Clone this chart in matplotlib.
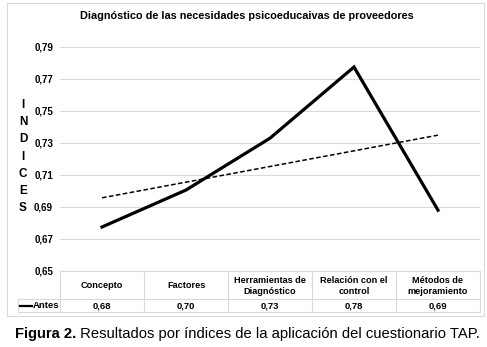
import matplotlib
matplotlib.use("Agg")
import matplotlib.pyplot as plt
import numpy as np
from matplotlib.lines import Line2D
from matplotlib.patches import Rectangle

categories = ["Concepto", "Factores", "Herramientas de\nDiagnóstico",
              "Relación con el\ncontrol", "Métodos de\nmejoramiento"]
antes = [0.6775, 0.7006, 0.7330, 0.7775, 0.6880]
yticks = [0.65, 0.67, 0.69, 0.71, 0.73, 0.75, 0.77, 0.79]
title = "Diagnóstico de las necesidades psicoeducaivas de proveedores"
series_name = "Antes"
ylabel = "INDICES"
caption_bold = "Figura 2."
caption_rest = " Resultados por índices de la aplicación del cuestionario TAP."

plt.rcParams['font.family'] = ['Liberation Sans', 'DejaVu Sans']

W, H = 487, 347
fig = plt.figure(figsize=(W / 100, H / 100), dpi=100)

def fx(px):
    return px / W

def fy(py):
    return 1 - py / H

grid_c = "#d9d9d9"

# outer chart border
fig.add_artist(Rectangle((fx(7), fy(316)), fx(484) - fx(7), fy(3) - fy(316),
                         transform=fig.transFigure, fill=False,
                         edgecolor=grid_c, linewidth=0.8))

x0, x1 = 60, 480
ytop, ybot = 47, 271
ax = fig.add_axes([fx(x0), fy(ybot), fx(x1) - fx(x0), fy(ytop) - fy(ybot)])
xs = np.arange(len(categories))
ax.plot(xs, antes, color="black", linewidth=2.3, solid_joinstyle="miter")
coef = np.polyfit(xs, antes, 1)
ax.plot(xs, np.polyval(coef, xs), color="black", linewidth=1.1,
        linestyle=(0, (3, 1.6)))
ax.set_xlim(-0.5, len(categories) - 0.5)
ax.set_ylim(yticks[0], yticks[-1])
ax.set_yticks(yticks)
ax.set_yticklabels([f"{v:.2f}".replace(".", ",") for v in yticks],
                   fontsize=7, fontweight="bold")
ax.tick_params(axis="y", length=0, pad=5)
ax.set_xticks([])
ax.grid(axis="y", color=grid_c, linewidth=0.8)
ax.set_axisbelow(True)
for s in ax.spines.values():
    s.set_visible(False)

# title
fig.text(fx(247), fy(16), title, ha="center", va="center",
         fontsize=7.8, fontweight="bold")

# vertical y label
for i, ch in enumerate(ylabel):
    fig.text(fx(23), fy(105 + i * 17.2), ch, ha="center", va="center",
             fontsize=8.5, fontweight="bold")

# table
ncol = len(categories)
cw = (x1 - x0) / ncol
hdr_top, hdr_bot, row_bot = 271, 299, 312
leg_left = 18
lw = 0.8
def hline(y, xa, xb):
    fig.add_artist(Line2D([fx(xa), fx(xb)], [fy(y), fy(y)],
                          transform=fig.transFigure, color=grid_c, linewidth=lw))
def vline(x, ya, yb):
    fig.add_artist(Line2D([fx(x), fx(x)], [fy(ya), fy(yb)],
                          transform=fig.transFigure, color=grid_c, linewidth=lw))
hline(hdr_top, x0, x1)
hline(hdr_bot, leg_left, x1)
hline(row_bot, leg_left, x1)
vline(leg_left, hdr_bot, row_bot)
for k in range(ncol + 1):
    vline(x0 + k * cw, hdr_top, row_bot)
for k, (cat, v) in enumerate(zip(categories, antes)):
    cx = x0 + (k + 0.5) * cw
    fig.text(fx(cx), fy((hdr_top + hdr_bot) / 2 + 1), cat, ha="center",
             va="center", fontsize=6.6, fontweight="bold", linespacing=1.2)
    fig.text(fx(cx), fy((hdr_bot + row_bot) / 2 + 0.5),
             f"{v:.2f}".replace(".", ","), ha="center", va="center",
             fontsize=6.8, fontweight="bold")
# legend key in table
fig.add_artist(Line2D([fx(19.5), fx(32)], [fy(305.5), fy(305.5)],
                      transform=fig.transFigure, color="black", linewidth=1.6))
fig.text(fx(32.5), fy(305.5), series_name, ha="left", va="center",
         fontsize=6.8, fontweight="bold")

# caption
t1 = fig.text(fx(15), fy(334), caption_bold, ha="left", va="center",
              fontsize=10.6, fontweight="bold")
fig.canvas.draw()
bb = t1.get_window_extent()
fig.text(bb.x1 / W, fy(334), caption_rest, ha="left", va="center",
         fontsize=10.6)

fig.savefig("out.png", dpi=100)
